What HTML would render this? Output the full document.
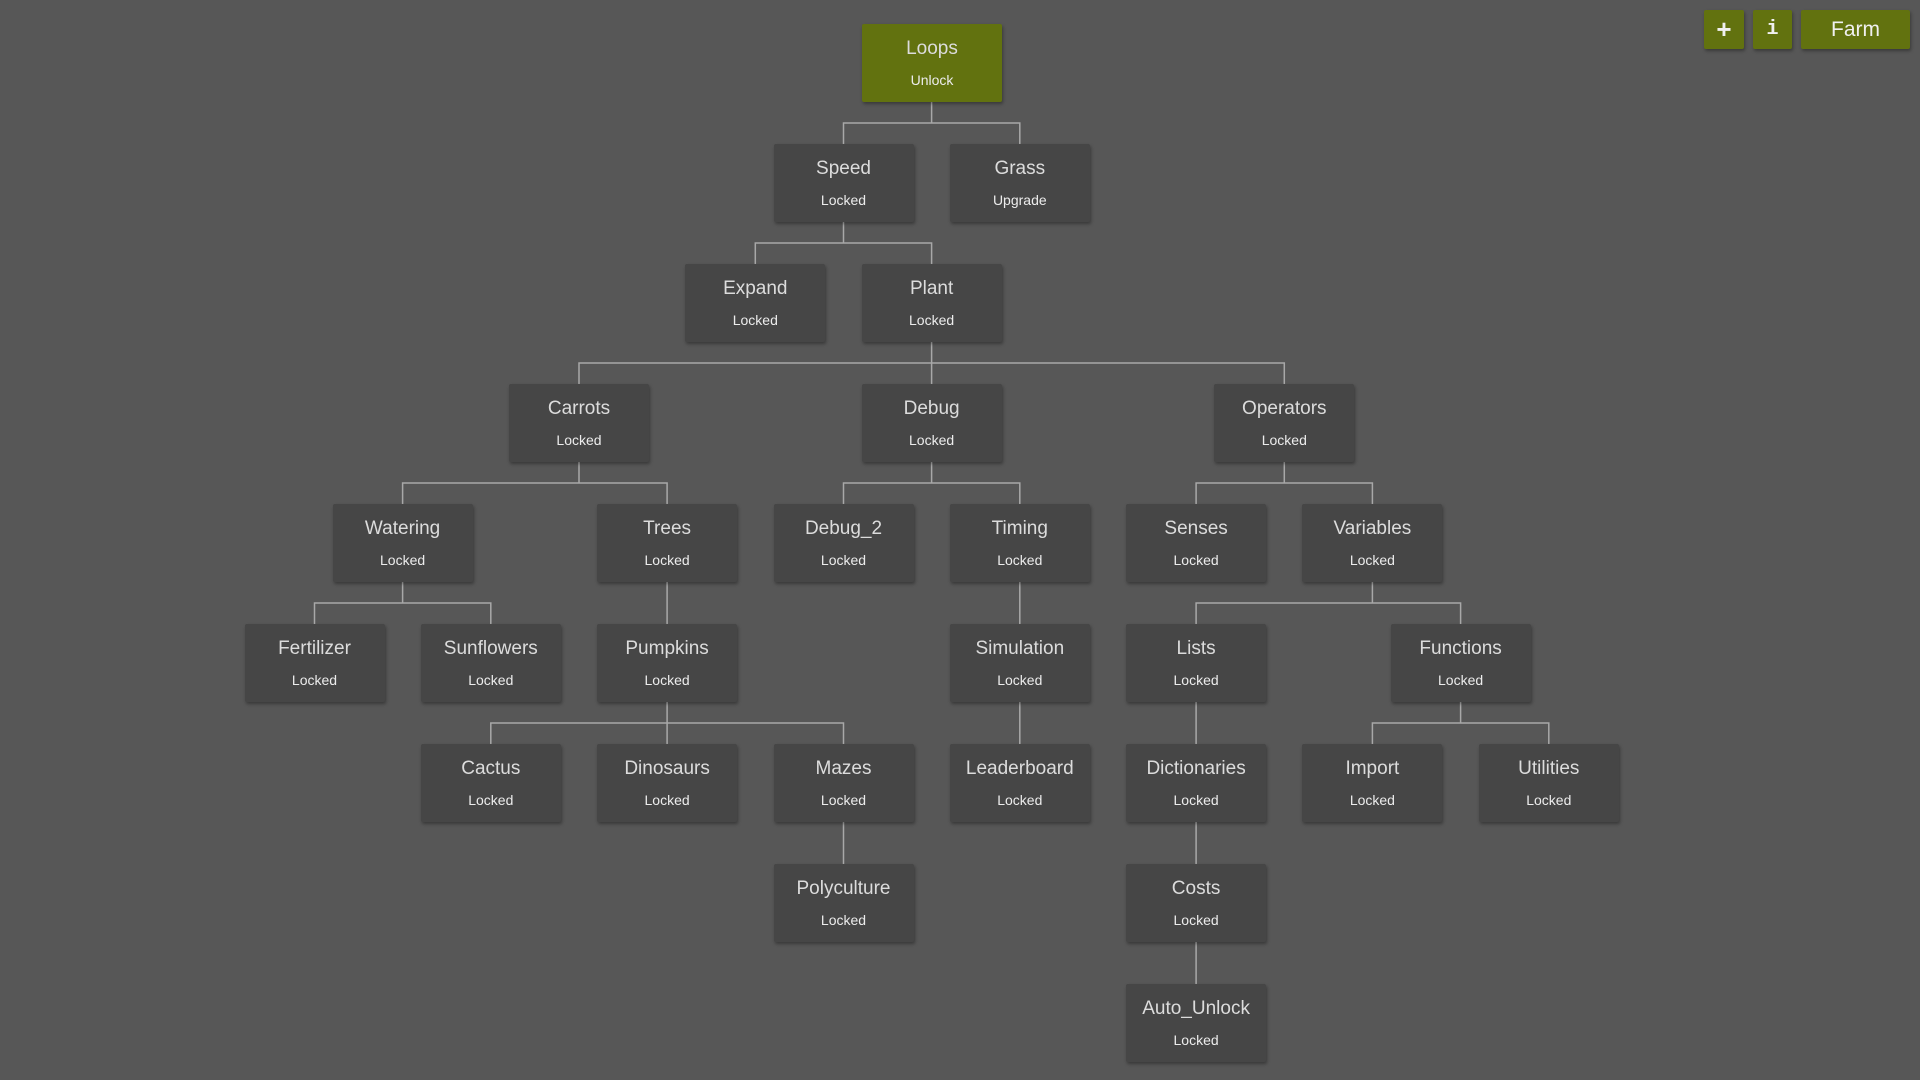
<!DOCTYPE html>
<html><head><meta charset="utf-8"><style>
body{margin:0;width:1920px;height:1080px;background:#575757;position:relative;overflow:hidden;font-family:"Liberation Sans",sans-serif}
.n{position:absolute;width:140px;height:78px;background:#464646;border-radius:2px;box-shadow:1px 2px 3px rgba(0,0,0,.35);color:#dcdcdc;text-align:center}
.n .t{position:absolute;left:0;right:0;top:13px;font-size:19px;line-height:24px}
.n .s{position:absolute;left:0;right:0;top:47px;font-size:14px;line-height:18px;color:#ececec}
.g{background:#62720f}
.b{position:absolute;top:10px;height:39px;background:#62720f;border-radius:2px;box-shadow:1px 2px 3px rgba(0,0,0,.35);color:#f0f0f0;text-align:center;line-height:39px}
svg{position:absolute;left:0;top:0}
</style></head><body>
<svg width="1920" height="1080"><g fill="none" stroke="#a8a8a8" stroke-width="1.5">
<path d="M931.6 102V123M843.5 144V123H1019.8V144"/>
<path d="M843.5 222V243M755.3 264V243H931.6V264"/>
<path d="M931.6 342V384M579 384V363H1284.3V384"/>
<path d="M579 462V483M402.6 504V483H667.1V504"/>
<path d="M931.6 462V483M843.5 504V483H1019.8V504"/>
<path d="M1284.3 462V483M1196.1 504V483H1372.4V504"/>
<path d="M402.6 582V603M314.5 624V603H490.8V624"/>
<path d="M667.1 582V624M1019.8 582V624"/>
<path d="M1372.4 582V603M1196.1 624V603H1460.6V624"/>
<path d="M667.1 702V744M490.8 744V723H843.5V744"/>
<path d="M1019.8 702V744M1196.1 702V744"/>
<path d="M1460.6 702V723M1372.4 744V723H1548.8V744"/>
<path d="M843.5 822V864M1196.1 822V864M1196.1 942V984"/>
</g></svg>
<div class="n g" style="left:862px;top:24px"><div class="t">Loops</div><div class="s">Unlock</div></div>
<div class="n" style="left:773.5px;top:144px"><div class="t">Speed</div><div class="s">Locked</div></div>
<div class="n" style="left:949.8px;top:144px"><div class="t">Grass</div><div class="s">Upgrade</div></div>
<div class="n" style="left:685.3px;top:264px"><div class="t">Expand</div><div class="s">Locked</div></div>
<div class="n" style="left:861.6px;top:264px"><div class="t">Plant</div><div class="s">Locked</div></div>
<div class="n" style="left:509px;top:384px"><div class="t">Carrots</div><div class="s">Locked</div></div>
<div class="n" style="left:861.6px;top:384px"><div class="t">Debug</div><div class="s">Locked</div></div>
<div class="n" style="left:1214.3px;top:384px"><div class="t">Operators</div><div class="s">Locked</div></div>
<div class="n" style="left:332.6px;top:504px"><div class="t">Watering</div><div class="s">Locked</div></div>
<div class="n" style="left:597.1px;top:504px"><div class="t">Trees</div><div class="s">Locked</div></div>
<div class="n" style="left:773.5px;top:504px"><div class="t">Debug_2</div><div class="s">Locked</div></div>
<div class="n" style="left:949.8px;top:504px"><div class="t">Timing</div><div class="s">Locked</div></div>
<div class="n" style="left:1126.1px;top:504px"><div class="t">Senses</div><div class="s">Locked</div></div>
<div class="n" style="left:1302.4px;top:504px"><div class="t">Variables</div><div class="s">Locked</div></div>
<div class="n" style="left:244.5px;top:624px"><div class="t">Fertilizer</div><div class="s">Locked</div></div>
<div class="n" style="left:420.8px;top:624px"><div class="t">Sunflowers</div><div class="s">Locked</div></div>
<div class="n" style="left:597.1px;top:624px"><div class="t">Pumpkins</div><div class="s">Locked</div></div>
<div class="n" style="left:949.8px;top:624px"><div class="t">Simulation</div><div class="s">Locked</div></div>
<div class="n" style="left:1126.1px;top:624px"><div class="t">Lists</div><div class="s">Locked</div></div>
<div class="n" style="left:1390.6px;top:624px"><div class="t">Functions</div><div class="s">Locked</div></div>
<div class="n" style="left:420.8px;top:744px"><div class="t">Cactus</div><div class="s">Locked</div></div>
<div class="n" style="left:597.1px;top:744px"><div class="t">Dinosaurs</div><div class="s">Locked</div></div>
<div class="n" style="left:773.5px;top:744px"><div class="t">Mazes</div><div class="s">Locked</div></div>
<div class="n" style="left:949.8px;top:744px"><div class="t">Leaderboard</div><div class="s">Locked</div></div>
<div class="n" style="left:1126.1px;top:744px"><div class="t">Dictionaries</div><div class="s">Locked</div></div>
<div class="n" style="left:1302.4px;top:744px"><div class="t">Import</div><div class="s">Locked</div></div>
<div class="n" style="left:1478.8px;top:744px"><div class="t">Utilities</div><div class="s">Locked</div></div>
<div class="n" style="left:773.5px;top:864px"><div class="t">Polyculture</div><div class="s">Locked</div></div>
<div class="n" style="left:1126.1px;top:864px"><div class="t">Costs</div><div class="s">Locked</div></div>
<div class="n" style="left:1126.1px;top:984px"><div class="t">Auto_Unlock</div><div class="s">Locked</div></div>
<div class="b" style="left:1704px;width:40px;font-size:26px;font-weight:bold">+</div>
<div class="b" style="left:1753px;width:39px;font-size:20px;font-weight:bold;font-family:'Liberation Mono',monospace">i</div>
<div class="b" style="left:1801px;width:109px;font-size:21px">Farm</div>
</body></html>
